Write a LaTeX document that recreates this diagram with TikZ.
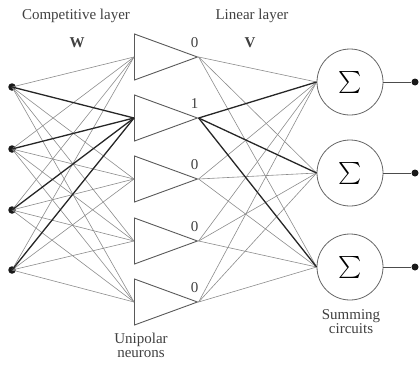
\documentclass[tikz,border=0pt]{standalone}
\usepackage{fontspec}
\setmainfont{Liberation Serif}
\usepackage{amsmath}
\usepackage{tikz}
\usetikzlibrary{shapes.geometric}
\tikzset{
  lbl/.style={text=black!75, font=\fontsize{15}{16}\selectfont},
  wt/.style={black!45, line width=.6pt},
  win/.style={black!85, line width=1.3pt},
  neuron/.style={isosceles triangle, isosceles triangle stretches, shape border rotate=0,
    minimum width=46pt, minimum height=63pt, inner sep=0pt, draw=black!65, line width=.9pt,
    anchor=lower side},
  summer/.style={circle, draw=black!60, line width=.8pt, minimum size=66pt, inner sep=0pt},
  dot/.style={circle, fill=black!90, minimum size=7.5pt, inner sep=0pt},
}

\begin{document}
\begin{tikzpicture}[x=1pt,y=-1pt]
\useasboundingbox (0,0) rectangle (419,367);

% inputs, unipolar neurons and summing circuits
\foreach \y [count=\i] in {87,149,210,270}
  \node[dot] (x\i) at (12,\y) {};
\foreach \y [count=\j] in {57,118,179,241,302}
  \node[neuron] (n\j) at (134,\y) {};
\foreach \y [count=\k] in {82,173,267} {
  \node[summer] (s\k) at (350,\y) {\scalebox{2.2}{$\sum$}};
  \node[dot, minimum size=7pt] (o\k) at (415,\y) {};
  \draw[black!70, line width=.8pt] (s\k.east) -- (o\k);
}

% layer W
\foreach \i in {1,...,4}
  \foreach \j in {1,3,4,5}
    \draw[wt] (x\i.center) -- (n\j.lower side);
\foreach \i in {1,...,4}
  \draw[win] (x\i.center) -- (n2.lower side);

% layer V
\foreach \j in {1,3,4,5}
  \foreach \k in {1,2,3}
    \draw[wt] (n\j.apex) -- (s\k.west);
\foreach \k in {1,2,3}
  \draw[win] (n2.apex) -- (s\k.west);

% neuron outputs
\foreach \v [count=\j] in {0,1,0,0,0}
  \node[lbl, xshift=-4pt, yshift=14pt] (v\j) at (n\j.apex) {\v};

% captions
\node[lbl] (cl) at (76,16) {Competitive layer};
\node[lbl] (w) at (77,43) {\textbf{W}};
\node[lbl] (ll) at (252,16) {Linear layer};
\node[lbl] (v) at (250,43) {\textbf{V}};
\node[lbl, align=center] (un) at (141,345) {Unipolar\\[-2pt]neurons};
\node[lbl, align=center] (sc) at (351,322) {Summing\\[-2pt]circuits};
\end{tikzpicture}
\end{document}
